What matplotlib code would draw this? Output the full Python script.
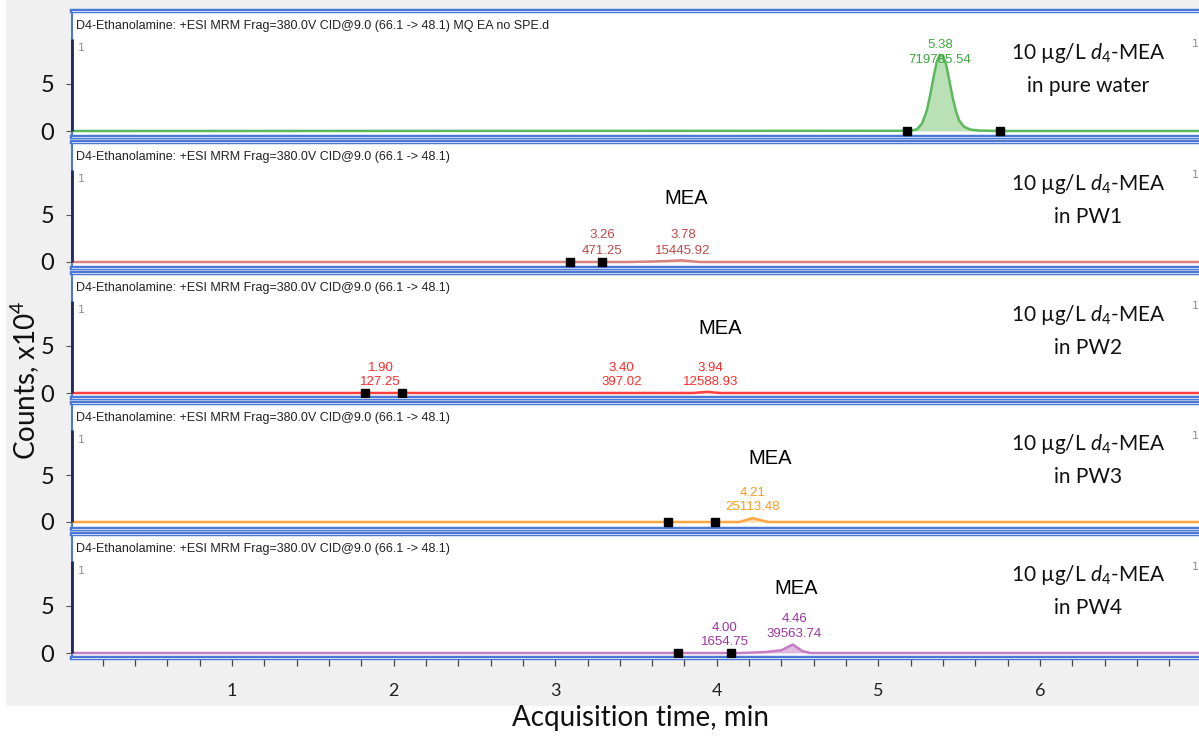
import matplotlib
matplotlib.use("Agg")
import matplotlib.pyplot as plt
from matplotlib.patches import Rectangle
from matplotlib.ticker import MultipleLocator, FixedLocator

plt.rcParams['mathtext.fontset'] = 'custom'
plt.rcParams['mathtext.rm'] = 'Lato'
plt.rcParams['mathtext.it'] = 'Lato:italic'

# ---- data (counts in units of 1e4, time in min) ----
header_base = "D4-Ethanolamine: +ESI MRM Frag=380.0V CID@9.0 (66.1 -> 48.1)"
headers = [header_base + " MQ EA no SPE.d", header_base, header_base, header_base, header_base]
samples = ["in pure water", "in PW1", "in PW2", "in PW3", "in PW4"]
line_colors = ["#5cb85c", "#d98080", "#ff4040", "#ffa640", "#c47ec4"]
label_colors = ["#3fa63f", "#c04848", "#ff2a2a", "#ff9a1a", "#9b35a0"]
fill_colors = ["#a9d9a3", "#e8b0b0", "#ffb0b0", "#ffd29a", "#d7a8d9"]

trace_t = [
    [0.0, 5.20, 5.24, 5.27, 5.30, 5.32, 5.34, 5.36, 5.38, 5.40, 5.42, 5.44, 5.46, 5.48, 5.50, 5.53, 5.57, 5.62, 5.75, 7.0],
    [0.0, 3.45, 3.60, 3.72, 3.78, 3.84, 3.90, 7.0],
    [0.0, 3.85, 3.94, 4.02, 7.0],
    [0.0, 4.14, 4.18, 4.22, 4.27, 4.32, 7.0],
    [0.0, 4.15, 4.30, 4.40, 4.47, 4.53, 4.58, 7.0],
]
trace_y = [
    [0.0, 0.02, 0.2, 0.8, 2.2, 3.8, 5.6, 7.3, 8.1, 8.0, 7.0, 5.3, 3.5, 2.1, 1.1, 0.45, 0.15, 0.05, 0.0, 0.0],
    [0.0, 0.0, 0.05, 0.12, 0.18, 0.08, 0.0, 0.0],
    [0.0, 0.0, 0.12, 0.0, 0.0],
    [0.0, 0.0, 0.2, 0.42, 0.2, 0.0, 0.0],
    [0.0, 0.0, 0.1, 0.3, 0.9, 0.2, 0.0, 0.0],
]
fill_range = [(5.18, 5.75), (3.45, 3.90), (3.85, 4.02), (4.14, 4.32), (4.15, 4.58)]
markers = [[5.18, 5.75], [3.09, 3.29], [1.82, 2.05], [3.70, 3.99], [3.76, 4.09]]

peak_x = [[5.38], [3.29, 3.79], [1.92, 3.41, 3.96], [4.22], [4.05, 4.48]]
peak_rt = [["5.38"], ["3.26", "3.78"], ["1.90", "3.40", "3.94"], ["4.21"], ["4.00", "4.46"]]
peak_area = [["719785.54"], ["471.25", "15445.92"], ["127.25", "397.02", "12588.93"],
             ["25113.48"], ["1654.75", "39563.74"]]
mea_x = [None, 3.81, 4.02, 4.33, 4.49]

# ---- layout in pixels ----
W, H = 1199, 736
tops = [11, 142, 273, 403, 534]
bottoms = [137, 268, 398, 529, 658]
baselines = [131, 262, 393, 522, 653]
px_per_unit = 9.4
x0_px, px_per_min = 70.4, 161.6
left_px = 72
label_off = [[(86, 71)], [(27, 11), (27, 11)], [(25, 11), (25, 11), (25, 11)],
             [(29, 15)], [(25, 11), (34, 19)]]

fig = plt.figure(figsize=(W / 100, H / 100), dpi=100)
fig.patches.append(Rectangle((6 / W, 1 - 706 / H), 1, 706 / H, transform=fig.transFigure,
                             facecolor="#f0f0f0", edgecolor="none", zorder=-10))

blue = "#4a78d4"
hfont = ['Liberation Sans Narrow', 'Liberation Sans', 'DejaVu Sans']
PT = 0.72  # pixels -> points at dpi 100

for i in range(5):
    ax = fig.add_axes([left_px / W, 1 - bottoms[i] / H, (W - left_px + 2) / W,
                       (bottoms[i] - tops[i]) / H])
    ax.set_facecolor("white")
    ylo = -(bottoms[i] - baselines[i]) / px_per_unit
    yhi = (baselines[i] - tops[i]) / px_per_unit
    ax.set_ylim(ylo, yhi)
    ax.set_xlim((left_px - x0_px) / px_per_min, (W + 2 - x0_px) / px_per_min)

    ax.plot(trace_t[i], trace_y[i], color=line_colors[i], lw=1.8, zorder=3)
    a, b = fill_range[i]
    ts = [t for t in trace_t[i] if a <= t <= b]
    ys = [y for t, y in zip(trace_t[i], trace_y[i]) if a <= t <= b]
    ax.fill_between(ts, ys, 0, color=fill_colors[i], alpha=0.8, lw=0, zorder=2)
    ax.plot(markers[i], [0] * len(markers[i]), ls="none", marker="s", ms=5.5,
            color="black", zorder=4)

    for x, rt, ar, off in zip(peak_x[i], peak_rt[i], peak_area[i], label_off[i]):
        ax.annotate(rt, (x, 0), xytext=(0, off[0] * PT), textcoords="offset points",
                    ha="center", va="center", fontsize=9.5, color=label_colors[i],
                    family=hfont, zorder=5)
        ax.annotate(ar, (x, 0), xytext=(0, off[1] * PT), textcoords="offset points",
                    ha="center", va="center", fontsize=9.5, color=label_colors[i],
                    family=hfont, zorder=5)

    if mea_x[i] is not None:
        ax.annotate("MEA", (mea_x[i], 0), xytext=(0, 64 * PT), textcoords="offset points",
                    ha="center", va="center", fontsize=14.5, color="black",
                    family="Liberation Sans")

    ax.text(4 / (W - left_px), 1 - 15 / (bottoms[i] - tops[i]), headers[i],
            transform=ax.transAxes, fontsize=9, color="#222222", family=hfont,
            ha="left", va="center")
    ax.text(6 / (W - left_px), 1 - 37 / (bottoms[i] - tops[i]), "1",
            transform=ax.transAxes, fontsize=8, color="#909090", ha="left", va="center")
    fig.text(1192 / W, 1 - (tops[i] + 33) / H, "1", fontsize=8, color="#909090",
             ha="left", va="center")

    fig.text(1088 / W, 1 - (baselines[i] - 78) / H, r"10 µg/L $\mathit{d}_{\mathit{4}}$-MEA",
             fontsize=15, family="Lato", color="#111111", ha="center", va="center")
    fig.text(1088 / W, 1 - (baselines[i] - 45) / H, samples[i],
             fontsize=15, family="Lato", color="#111111", ha="center", va="center")

    for side in ["top", "bottom"]:
        ax.spines[side].set_color(blue)
        ax.spines[side].set_linewidth(3.2)
    ax.spines["left"].set_color(blue)
    ax.spines["left"].set_linewidth(1.5)
    ax.spines["right"].set_visible(False)
    # thin light line inside the border gives the double-line look
    for yb in (0, 1):
        ax.plot([0, 1], [yb, yb], transform=ax.transAxes, color="#dfe8f8", lw=0.6,
                clip_on=False, zorder=7)
    ax.vlines(ax.get_xlim()[0], 0, 9.8, color="#1c2a5c", lw=2, zorder=6, clip_on=False)

    ax.yaxis.set_major_locator(FixedLocator([0, 5]))
    ax.tick_params(axis="y", length=4, width=0.8, color="#555555", pad=9,
                   labelsize=17, labelcolor="#111111")
    for lab in ax.get_yticklabels():
        lab.set_family("Lato")
    if i < 4:
        ax.set_xticks([])
    else:
        ax.xaxis.set_major_locator(FixedLocator([1, 2, 3, 4, 5, 6]))
        ax.xaxis.set_minor_locator(MultipleLocator(0.2))
        ax.tick_params(axis="x", which="both", length=6, width=0.9, color="#444444",
                       direction="out")
        ax.tick_params(axis="x", which="major", pad=12, labelsize=13, labelcolor="#222222")
        for lab in ax.get_xticklabels():
            lab.set_family("Lato")

fig.text(25 / W, 1 - 380 / H, r"Counts, x10$^{4}$", rotation=90, ha="center", va="center",
         fontsize=20, family="Lato", color="#111111")
fig.text(640 / W, 1 - 718 / H, "Acquisition time, min", ha="center", va="center",
         fontsize=20, family="Lato", color="#111111")

fig.savefig("out.png", dpi=100)
